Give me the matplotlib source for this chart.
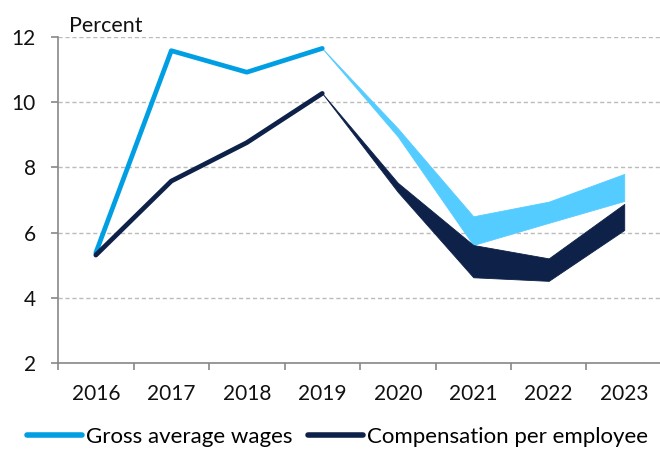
import numpy as np
import matplotlib.pyplot as plt
from matplotlib.lines import Line2D

plt.rcParams['font.family'] = ['Lato', 'DejaVu Sans']

years = ['2016', '2017', '2018', '2019', '2020', '2021', '2022', '2023']

# historical (2016-2019)
wages_hist = [5.38, 11.58, 10.92, 11.65]
comp_hist = [5.31, 7.58, 8.76, 10.27]

# projection ranges (2019-2023)
wages_hi = [11.65, 9.2, 6.5, 6.95, 7.8]
wages_lo = [11.65, 8.95, 5.62, 6.3, 6.97]
comp_hi = [10.27, 7.53, 5.62, 5.21, 6.88]
comp_lo = [10.27, 7.25, 4.63, 4.52, 6.08]

c_wages = '#009fe3'
c_wages_band = '#55ccff'
c_comp = '#0d2149'

fig = plt.figure(figsize=(6.6, 4.49), dpi=100)
ax = fig.add_axes([0.088, 0.1915, 0.915, 0.7261])

x = np.arange(len(years))
xh = x[:4]
xp = x[3:]

ax.fill_between(xp, wages_lo, wages_hi, color=c_wages_band, lw=0.6, zorder=3)
ax.fill_between(xp, comp_lo, comp_hi, color=c_comp, lw=0.6, zorder=3)
ax.plot(xh, wages_hist, color=c_wages, lw=3.4, solid_capstyle='round', zorder=4)
ax.plot(xh, comp_hist, color=c_comp, lw=3.4, solid_capstyle='round', zorder=4)

ax.set_xlim(-0.5, 7.5)
ax.set_ylim(2, 12)
ax.set_yticks([2, 4, 6, 8, 10, 12])
ax.set_xticks(np.arange(-0.5, 8, 1))
ax.set_xticks(x, minor=True)
ax.set_xticklabels([])
ax.set_xticklabels(years, minor=True)
ax.tick_params(axis='x', which='major', length=5, width=1.2, color='#888888', direction='out')
ax.tick_params(axis='x', which='minor', length=0, pad=15, labelsize=15, labelcolor='#111111')
ax.tick_params(axis='y', length=5, width=1.2, color='#888888', labelsize=15,
               labelcolor='#111111', pad=11)

ax.grid(axis='y', color='#bbbbbb', linestyle=(0, (3, 2)), lw=1.0, zorder=0)
for s in ['top', 'right']:
    ax.spines[s].set_visible(False)
ax.spines['left'].set_color('#888888')
ax.spines['bottom'].set_color('#888888')
ax.spines['left'].set_linewidth(1.2)
ax.spines['bottom'].set_linewidth(1.2)

fig.text(0.105, 0.942, 'Percent', fontsize=15.5, color='#111111', va='center')

handles = [Line2D([], [], color=c_wages, lw=4, solid_capstyle='round'),
           Line2D([], [], color=c_comp, lw=4, solid_capstyle='round')]
fig.legend(handles, ['Gross average wages', 'Compensation per employee'],
           loc='center', bbox_to_anchor=(0.511, 0.027), ncol=2, frameon=False,
           fontsize=16, handlelength=2.5, handletextpad=0.15, columnspacing=0.7,
           borderpad=0, borderaxespad=0)

fig.savefig('out.png', dpi=100)
